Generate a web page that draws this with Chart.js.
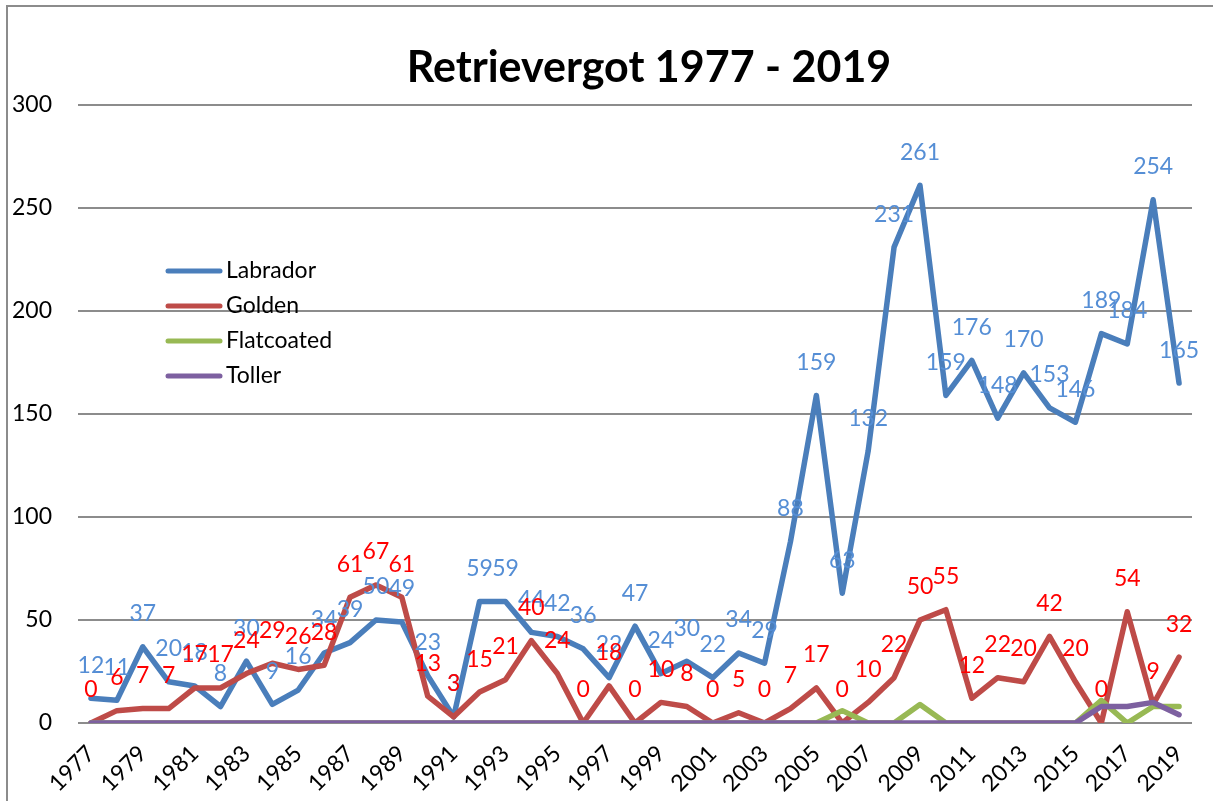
<!DOCTYPE html>
<html>
<head>
<meta charset="utf-8">
<script src="https://cdn.jsdelivr.net/npm/chart.js@4/dist/chart.umd.min.js"></script>
<style>
  html, body { margin: 0; padding: 0; background: #fff; }
  #wrap { width: 1213px; height: 801px; }
</style>
</head>
<body>
<div id="wrap"><canvas id="myChart" width="1213" height="801"></canvas></div>
<script>
var years = ['1977','1978','1979','1980','1981','1982','1983','1984','1985','1986',
  '1987','1988','1989','1990','1991','1992','1993','1994','1995','1996',
  '1997','1998','1999','2000','2001','2002','2003','2004','2005','2006',
  '2007','2008','2009','2010','2011','2012','2013','2014','2015','2016',
  '2017','2018','2019'];

var labrador = [12, 11, 37, 20, 18, 8, 30, 9, 16, 34,
  39, 50, 49, 23, 3, 59, 59, 44, 42, 36,
  22, 47, 24, 30, 22, 34, 29, 88, 159, 63,
  132, 231, 261, 159, 176, 148, 170, 153, 146, 189,
  184, 254, 165];

var golden = [0, 6, 7, 7, 17, 17, 24, 29, 26, 28,
  61, 67, 61, 13, 3, 15, 21, 40, 24, 0,
  18, 0, 10, 8, 0, 5, 0, 7, 17, 0,
  10, 22, 50, 55, 12, 22, 20, 42, 20, 0,
  54, 9, 32];

var flatcoated = [0, 0, 0, 0, 0, 0, 0, 0, 0, 0,
  0, 0, 0, 0, 0, 0, 0, 0, 0, 0,
  0, 0, 0, 0, 0, 0, 0, 0, 0, 6,
  0, 0, 9, 0, 0, 0, 0, 0, 0, 11,
  0, 8, 8];

var toller = [0, 0, 0, 0, 0, 0, 0, 0, 0, 0,
  0, 0, 0, 0, 0, 0, 0, 0, 0, 0,
  0, 0, 0, 0, 0, 0, 0, 0, 0, 0,
  0, 0, 0, 0, 0, 0, 0, 0, 0, 8,
  8, 10, 4];

var yTicks = [0, 50, 100, 150, 200, 250, 300];

var canvas = document.getElementById('myChart');
var ctx = canvas.getContext('2d');

// frame, title, legend and value labels drawn by hand
var extras = {
  id: 'extras',
  beforeDraw: function (chart) {
    var c = chart.ctx;
    c.save();
    c.strokeStyle = '#8c8c8c';
    c.lineWidth = 2;
    c.beginPath();
    c.moveTo(7, 801);
    c.lineTo(7, 6);
    c.lineTo(1213, 6);
    c.stroke();
    c.fillStyle = '#000';
    c.font = 'bold 43px Lato';
    c.textAlign = 'center';
    c.textBaseline = 'middle';
    c.fillText('Retrievergot 1977 - 2019', 649, 68);
    c.restore();
  },
  afterDatasetsDraw: function (chart) {
    var c = chart.ctx;
    c.save();
    c.font = '23px Lato';
    c.textAlign = 'center';
    c.textBaseline = 'middle';
    var labelColors = ['#558ED5', '#FF0000'];
    [0, 1].forEach(function (i) {
      var meta = chart.getDatasetMeta(i);
      var ds = chart.data.datasets[i];
      c.fillStyle = labelColors[i];
      meta.data.forEach(function (pt, j) {
        c.fillText(String(ds.data[j]), pt.x, pt.y - 33);
      });
    });
    // legend
    c.font = '23px Lato';
    c.textAlign = 'left';
    chart.data.datasets.forEach(function (ds, i) {
      var y = 271 + i * 35;
      c.strokeStyle = ds.borderColor;
      c.lineWidth = 5;
      c.lineCap = 'round';
      c.beginPath();
      c.moveTo(168, y);
      c.lineTo(220, y);
      c.stroke();
      c.fillStyle = '#000';
      c.fillText(ds.label, 226, y);
    });
    c.restore();
  }
};

var myChart = new Chart(ctx, {
  type: 'line',
  data: {
    labels: years,
    datasets: [{
      label: 'Labrador',
      data: labrador,
      borderColor: '#4A7EBB',
      order: 4
    }, {
      label: 'Golden',
      data: golden,
      borderColor: '#BE4B48',
      order: 3
    }, {
      label: 'Flatcoated',
      data: flatcoated,
      borderColor: '#98B954',
      order: 2
    }, {
      label: 'Toller',
      data: toller,
      borderColor: '#7D60A0',
      order: 1
    }]
  },
  options: {
    responsive: false,
    animation: false,
    layout: { padding: { top: 105, right: 21, left: 0, bottom: 0 } },
    elements: {
      point: { radius: 0 },
      line: { borderWidth: 5.5, tension: 0, borderJoinStyle: 'round', borderCapStyle: 'round' }
    },
    plugins: {
      legend: { display: false },
      title: { display: false },
      tooltip: { enabled: false }
    },
    scales: {
      x: {
        offset: true,
        grid: { display: false },
        border: { display: false },
        ticks: {
          autoSkip: false,
          minRotation: 45,
          maxRotation: 45,
          color: '#000',
          font: { family: 'Lato', size: 23 },
          padding: 9,
          callback: function (val, idx) {
            return idx % 2 === 0 ? this.getLabelForValue(val) : '';
          }
        },
        afterFit: function (scale) { scale.height = 78; }
      },
      y: {
        min: 0,
        max: 300,
        afterBuildTicks: function (scale) {
          scale.ticks = yTicks.map(function (v) { return { value: v }; });
        },
        grid: { color: '#8c8c8c', lineWidth: 2, drawTicks: false },
        border: { display: false },
        ticks: {
          color: '#000',
          font: { family: 'Lato', size: 23 },
          padding: 26
        },
        afterFit: function (scale) { scale.width = 78; }
      }
    }
  },
  plugins: [extras]
});
</script>
</body>
</html>
